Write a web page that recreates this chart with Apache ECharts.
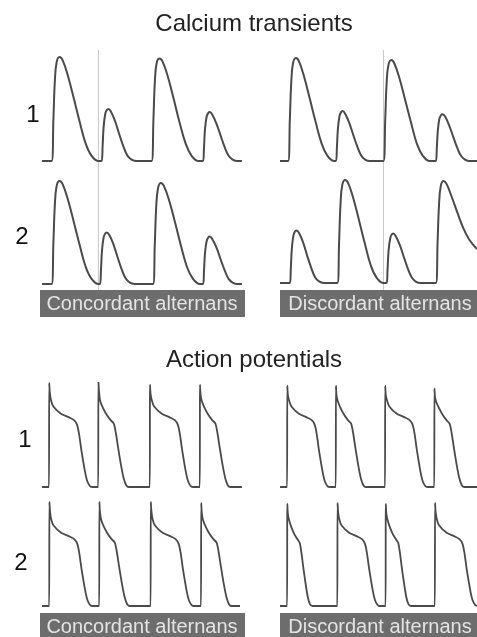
<!DOCTYPE html>
<html>
<head>
<meta charset="utf-8">
<script src="https://cdn.jsdelivr.net/npm/echarts@6/dist/echarts.min.js"></script>
<style>
html, body { margin: 0; padding: 0; background: #fff; }
#main { width: 477px; height: 637px; }
</style>
</head>
<body>
<div id="main"></div>
<script>
var sectionTitles = ['Calcium transients', 'Action potentials'];
var rowLabels = ['1', '2'];
var boxLabels = ['Concordant alternans', 'Discordant alternans'];

// calcium transients: [time ms, normalised F]
var caConc1 = [[0,0],
    [48,0],[57,0.4],[64,0.76],[73,0.95],[88,1],[103,0.97],[128,0.83],[158,0.61],[188,0.38],[218,0.17],[248,0.05],[283,0],
    [298,0],[303,0.14],[308,0.325],[316,0.45],[324,0.49],[332,0.5],[346,0.47],[366,0.38],[386,0.26],[406,0.145],[426,0.055],[446,0.015],[470,0],
    [548,0],[557,0.39],[564,0.75],[573,0.94],[588,0.985],[603,0.955],[628,0.82],[658,0.6],[688,0.37],[718,0.17],[748,0.05],[783,0],
    [805,0],[810,0.13],[815,0.305],[823,0.425],[831,0.46],[839,0.47],[853,0.44],[873,0.355],[893,0.245],[913,0.135],[933,0.05],[953,0.014],[977,0],[1000,0]];
var caDisc1 = [[0,0],
    [41,0],[50,0.4],[57,0.75],[66,0.94],[81,0.99],[96,0.96],[121,0.82],[151,0.6],[181,0.375],[211,0.17],[241,0.05],[276,0],
    [284,0],[289,0.135],[294,0.31],[302,0.43],[310,0.47],[318,0.48],[332,0.45],[352,0.365],[372,0.25],[392,0.14],[412,0.053],[432,0.014],[456,0],
    [525,0],[534,0.39],[541,0.74],[550,0.92],[565,0.97],[580,0.94],[605,0.805],[635,0.59],[665,0.37],[695,0.165],[725,0.05],[760,0],
    [791,0],[796,0.125],[801,0.29],[809,0.405],[817,0.44],[825,0.45],[839,0.425],[859,0.34],[879,0.235],[899,0.13],[919,0.05],[939,0.014],[963,0],[1000,0]];
var caConc2 = [[0,0],
    [48,0],[57,0.4],[64,0.76],[73,0.95],[88,1],[103,0.97],[128,0.83],[158,0.61],[188,0.38],[218,0.17],[248,0.05],[283,0],
    [290,0],[295,0.14],[300,0.325],[308,0.45],[316,0.49],[324,0.5],[338,0.47],[358,0.38],[378,0.26],[398,0.145],[418,0.055],[438,0.015],[462,0],
    [555,0],[564,0.39],[571,0.745],[580,0.93],[595,0.98],[610,0.95],[635,0.815],[665,0.6],[695,0.37],[725,0.165],[755,0.05],[790,0],
    [805,0],[810,0.13],[815,0.3],[823,0.415],[831,0.45],[839,0.46],[853,0.43],[873,0.35],[893,0.24],[913,0.135],[933,0.05],[953,0.014],[977,0],[1000,0]];
var caDisc2 = [[0,0],
    [50,0],[55,0.145],[60,0.33],[68,0.46],[76,0.5],[84,0.51],[98,0.48],[118,0.39],[138,0.265],[158,0.15],[178,0.055],[198,0.015],[222,0],
    [291,0],[300,0.4],[307,0.76],[316,0.95],[331,1],[346,0.97],[371,0.83],[401,0.61],[431,0.38],[461,0.17],[491,0.05],[526,0],
    [541,0],[546,0.135],[551,0.31],[559,0.43],[567,0.47],[575,0.48],[589,0.45],[609,0.365],[629,0.25],[649,0.14],[669,0.053],[689,0.014],[713,0],
    [791,0],[800,0.4],[807,0.75],[816,0.94],[831,0.99],[846,0.96],[871,0.84],[901,0.68],[931,0.53],[961,0.42],[1000,0.33]];

// action potentials: [time ms, mV]
var apConc1 = [[0,-85],
    [35,-85],[36,30],[39,20],[45,11],[57,4],[95,-4],[135,-8],[160,-11],[175,-16],[185,-26],[198,-46],[215,-68],[227,-79],[240,-84],[253,-85],
    [281,-85],[282,32],[285,21],[291,10],[306,2],[326,-6],[343,-11],[359,-15],[369,-25],[381,-42],[396,-62],[408,-75],[421,-83],[434,-85],
    [539,-85],[540,28],[543,18],[549,11],[561,4],[599,-4],[639,-8],[664,-11],[679,-16],[689,-26],[702,-46],[719,-68],[731,-79],[744,-84],[757,-85],
    [789,-85],[790,28],[793,17],[799,10],[814,2],[834,-6],[851,-11],[867,-15],[877,-25],[889,-42],[904,-62],[916,-75],[929,-83],[942,-85],[1000,-85]];
var apConc2 = [[0,-85],
    [36,-85],[37,30],[40,20],[46,11],[58,4],[96,-4],[136,-8],[161,-11],[176,-16],[186,-26],[199,-46],[216,-68],[228,-79],[241,-84],[254,-85],
    [286,-85],[287,30],[290,19],[296,10],[311,2],[331,-6],[348,-11],[364,-15],[374,-25],[386,-42],[401,-62],[413,-75],[426,-83],[439,-85],
    [543,-85],[544,30],[547,20],[553,11],[565,4],[603,-4],[643,-8],[668,-11],[683,-16],[693,-26],[706,-46],[723,-68],[735,-79],[748,-84],[761,-85],
    [795,-85],[796,29],[799,18],[805,10],[820,2],[840,-6],[857,-11],[873,-15],[883,-25],[895,-42],[910,-62],[922,-75],[935,-83],[948,-85],[990,-85]];
var apDisc1 = [[0,-85],
    [36,-85],[37,27],[40,17],[46,11],[58,4],[96,-4],[136,-8],[161,-11],[176,-16],[186,-26],[199,-46],[216,-68],[228,-79],[241,-84],[254,-85],
    [283,-85],[284,27],[287,16],[293,10],[308,2],[328,-6],[345,-11],[361,-15],[371,-25],[383,-42],[398,-62],[410,-75],[423,-83],[436,-85],
    [533,-85],[534,27],[537,17],[543,11],[555,4],[593,-4],[633,-8],[658,-11],[673,-16],[683,-26],[696,-46],[713,-68],[725,-79],[738,-84],[751,-85],
    [783,-85],[784,24],[787,14],[793,9],[808,2],[828,-6],[845,-11],[861,-15],[871,-25],[883,-42],[898,-62],[910,-75],[923,-83],[936,-85],[1000,-85]];
var apDisc2 = [[0,-85],
    [36,-85],[37,28],[40,17],[46,10],[58,2],[74,-6],[88,-11],[100,-15],[108,-25],[118,-42],[131,-62],[141,-75],[152,-83],[165,-85],
    [291,-85],[292,29],[295,19],[301,11],[313,4],[351,-4],[391,-8],[416,-11],[431,-16],[441,-26],[454,-46],[471,-68],[483,-79],[496,-84],[509,-85],
    [536,-85],[537,28],[540,17],[546,10],[558,2],[574,-6],[588,-11],[600,-15],[608,-25],[618,-42],[631,-62],[641,-75],[652,-83],[665,-85],
    [786,-85],[787,29],[790,19],[796,11],[808,4],[846,-4],[886,-8],[911,-11],[926,-16],[936,-26],[949,-46],[966,-68],[978,-79],[991,-84],[1000,-85]];

// thin reference lines across the calcium rows (ms)
var markerTimes = [282, 525];

var chart = echarts.init(document.getElementById('main'));

var panels = [
    {data: caConc1, left: 42,  top: 57,  height: 104, min: 0, max: 1, width: 2, smooth: 0.4},
    {data: caDisc1, left: 280, top: 57,  height: 104, min: 0, max: 1, width: 2, smooth: 0.4},
    {data: caConc2, left: 42,  top: 181, height: 103, min: 0, max: 1, width: 2, smooth: 0.4},
    {data: caDisc2, left: 280, top: 180, height: 103, min: 0, max: 1, width: 2, smooth: 0.4},
    {data: apConc1, left: 42,  top: 383, height: 104, min: -85, max: 30, width: 1.8, smooth: 0.25},
    {data: apDisc1, left: 280, top: 383, height: 104, min: -85, max: 30, width: 1.8, smooth: 0.25},
    {data: apConc2, left: 42,  top: 502, height: 104, min: -85, max: 30, width: 1.8, smooth: 0.25},
    {data: apDisc2, left: 280, top: 502, height: 104, min: -85, max: 30, width: 1.8, smooth: 0.25}
];

var grids = [], xAxes = [], yAxes = [], series = [];

// marker grids first so traces sit on top
[42, 280].forEach(function (left, i) {
    grids.push({left: left, top: 50, width: 200, height: 240});
    xAxes.push({type: 'value', gridIndex: grids.length - 1, min: 0, max: 1000, show: false});
    yAxes.push({type: 'value', gridIndex: grids.length - 1, min: 0, max: 1, show: false});
    series.push({
        type: 'line', xAxisIndex: grids.length - 1, yAxisIndex: grids.length - 1,
        data: [[markerTimes[i], 0], [markerTimes[i], 1]],
        showSymbol: false, silent: true,
        lineStyle: {color: '#c6c6c6', width: 1}
    });
});

panels.forEach(function (p) {
    grids.push({left: p.left, top: p.top, width: 200, height: p.height});
    var idx = grids.length - 1;
    xAxes.push({type: 'value', gridIndex: idx, min: 0, max: 1000, show: false});
    yAxes.push({type: 'value', gridIndex: idx, min: p.min, max: p.max, show: false});
    series.push({
        type: 'line', xAxisIndex: idx, yAxisIndex: idx,
        data: p.data,
        showSymbol: false, silent: true,
        smooth: p.smooth,
        lineStyle: {color: '#4a4a4a', width: p.width}
    });
});

var font = '"Liberation Sans", Arial, sans-serif';
var graphics = [];

function addText(txt, x, y, size, fill) {
    graphics.push({
        type: 'text', x: x, y: y, silent: true,
        style: {text: txt, fontSize: size, fontFamily: font, fill: fill, align: 'center', verticalAlign: 'middle'}
    });
}

addText(sectionTitles[0], 254, 24, 24, '#222');
addText(sectionTitles[1], 254, 360, 24, '#222');

addText(rowLabels[0], 33, 115, 24, '#111');
addText(rowLabels[1], 22, 237, 24, '#111');
addText(rowLabels[0], 25, 440, 24, '#111');
addText(rowLabels[1], 21, 563, 24, '#111');

[290, 613].forEach(function (y) {
    graphics.push({type: 'rect', silent: true, shape: {x: 40, y: y, width: 205, height: 27}, style: {fill: '#6d6d6d'}});
    graphics.push({type: 'rect', silent: true, shape: {x: 280, y: y, width: 200, height: 27}, style: {fill: '#6d6d6d'}});
    addText(boxLabels[0], 142, y + 14, 20, '#e4e4e4');
    addText(boxLabels[1], 380, y + 14, 20, '#e4e4e4');
});

chart.setOption({
    animation: false,
    backgroundColor: '#fff',
    grid: grids,
    xAxis: xAxes,
    yAxis: yAxes,
    series: series,
    graphic: graphics
});
</script>
</body>
</html>
